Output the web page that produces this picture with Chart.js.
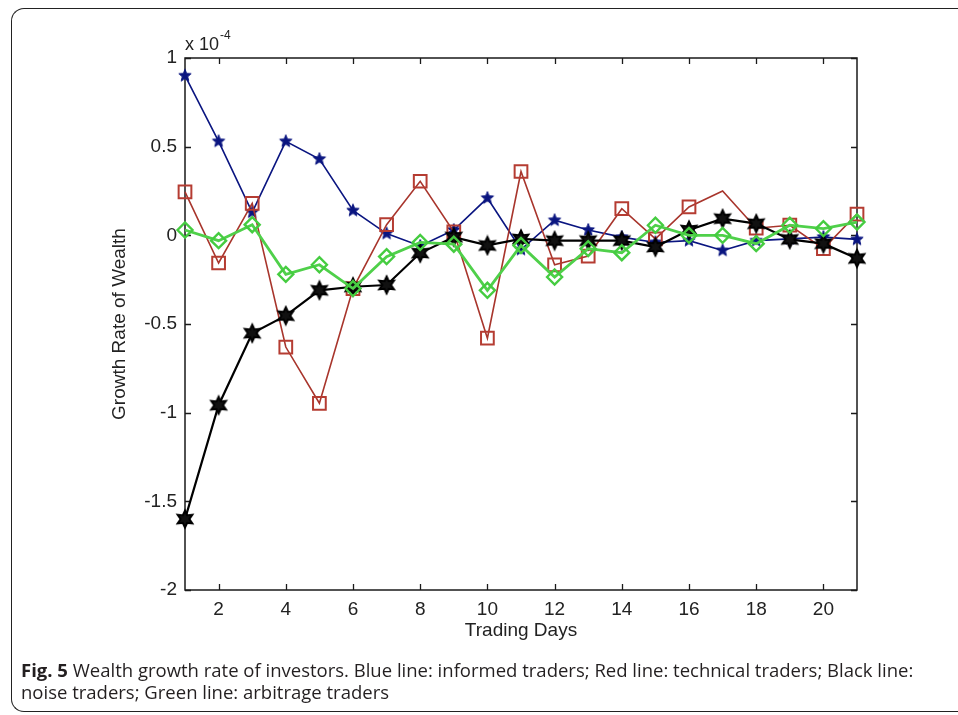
<!DOCTYPE html>
<html>
<head>
<meta charset="utf-8">
<script src="https://cdn.jsdelivr.net/npm/chart.js@4.4.1/dist/chart.umd.min.js"></script>
<style>
  html, body { margin: 0; padding: 0; background: #fff; width: 958px; height: 715px; overflow: hidden; }
  #frame { position: absolute; left: 11px; top: 8px; width: 947px; height: 704px; border: 1.5px solid #222; border-right: none; border-radius: 13px 0 0 13px; box-sizing: border-box; }
  #wrap { position: absolute; left: 0; top: 0; width: 958px; height: 715px; }
  #caption { position: absolute; left: 21px; top: 659px; font-family: "Open Sans", "Noto Sans", sans-serif; font-size: 18.5px; line-height: 22px; color: #231f20; white-space: nowrap; }
  #caption b { font-weight: 700; }
</style>
</head>
<body>
<div id="frame"></div>
<div id="wrap"><canvas id="c" width="958" height="715"></canvas></div>
<div id="caption"><b>Fig. 5</b> Wealth growth rate of investors. Blue line: informed traders; Red line: technical traders; Black line:<br>noise traders; Green line: arbitrage traders</div>
<script>
// ---- data (values in units of 1e-4) ----
const days = [1,2,3,4,5,6,7,8,9,10,11,12,13,14,15,16,17,18,19,20,21];
const informed  = [0.90, 0.53, 0.13, 0.53, 0.43, 0.14, 0.01, -0.06, 0.03, 0.21, -0.08, 0.085, 0.03, -0.01, -0.04, -0.03, -0.085, -0.03, -0.02, -0.01, -0.023];
const technical = [0.245, -0.156, 0.18, -0.63, -0.947, -0.30, 0.06, 0.305, 0.02, -0.58, 0.36, -0.166, -0.117, 0.15, -0.02, 0.16, 0.25, 0.04, 0.057, -0.075, 0.12];
const noise     = [-1.60, -0.958, -0.552, -0.453, -0.31, -0.29, -0.28, -0.10, -0.01, -0.057, -0.02, -0.03, -0.03, -0.03, -0.066, 0.03, 0.094, 0.066, -0.023, -0.047, -0.13];
const arbitrage = [0.03, -0.03, 0.06, -0.22, -0.166, -0.30, -0.12, -0.04, -0.05, -0.31, -0.057, -0.235, -0.075, -0.098, 0.057, 0.0, 0.0, -0.047, 0.057, 0.038, 0.075];
const xTickValues = [2,4,6,8,10,12,14,16,18,20];
const yTickValues = [1, 0.5, 0, -0.5, -1, -1.5, -2];
const xTitle = "Trading Days";
const yTitle = "Growth Rate of Wealth";
const multiplierBase = "x 10";
const multiplierExp = "-4";

// ---- marker images ----
function starImage(points, outerR, innerR, fill, stroke, lw, size) {
  const c = document.createElement('canvas');
  c.width = size; c.height = size;
  const g = c.getContext('2d');
  const cx = size / 2, cy = size / 2;
  g.beginPath();
  for (let i = 0; i < points * 2; i++) {
    const r = i % 2 === 0 ? outerR : innerR;
    const a = -Math.PI / 2 + i * Math.PI / points;
    const px = cx + r * Math.cos(a), py = cy + r * Math.sin(a);
    if (i === 0) g.moveTo(px, py); else g.lineTo(px, py);
  }
  g.closePath();
  if (fill) { g.fillStyle = fill; g.fill(); }
  if (stroke) { g.strokeStyle = stroke; g.lineWidth = lw; g.lineJoin = 'miter'; g.stroke(); }
  return c;
}
const pentagram = starImage(5, 6.5, 2.8, '#0a1580', '#0a1580', 1, 16);
const hexagram = starImage(6, 8.5, 4.4, '#111', '#000', 2, 22);

const frameAndTicks = {
  id: 'frameAndTicks',
  beforeDatasetsDraw(chart) {
    const {ctx, chartArea: a, scales} = chart;
    ctx.save();
    ctx.strokeStyle = '#1a1a1a';
    ctx.lineWidth = 1.5;
    ctx.strokeRect(a.left, a.top, a.right - a.left, a.bottom - a.top);
    ctx.lineWidth = 1.3;
    ctx.beginPath();
    const tl = 6;
    xTickValues.forEach(v => {
      const x = Math.round(scales.x.getPixelForValue(v)) + 0.5;
      ctx.moveTo(x, a.bottom); ctx.lineTo(x, a.bottom - tl);
      ctx.moveTo(x, a.top); ctx.lineTo(x, a.top + tl);
    });
    yTickValues.forEach(v => {
      const y = Math.round(scales.y.getPixelForValue(v)) + 0.5;
      ctx.moveTo(a.left, y); ctx.lineTo(a.left + tl, y);
      ctx.moveTo(a.right, y); ctx.lineTo(a.right - tl, y);
    });
    ctx.stroke();
    // multiplier label
    ctx.fillStyle = '#222';
    ctx.font = '18px "Liberation Sans", Arial, sans-serif';
    ctx.textBaseline = 'alphabetic';
    ctx.textAlign = 'left';
    ctx.fillText(multiplierBase, a.left, a.top - 8);
    const w = ctx.measureText(multiplierBase).width;
    ctx.font = '12px "Liberation Sans", Arial, sans-serif';
    ctx.fillText(multiplierExp, a.left + w + 1, a.top - 19);
    ctx.restore();
  }
};

const tickFont = { family: '"Liberation Sans", Arial, sans-serif', size: 19 };

new Chart(document.getElementById('c'), {
  type: 'line',
  data: {
    labels: days,
    datasets: [
      { label: 'Informed traders', data: days.map((d, i) => ({x: d, y: informed[i]})),
        borderColor: '#0a1580', borderWidth: 1.6, pointStyle: pentagram, pointRadius: 6, order: 4 },
      { label: 'Technical traders', data: days.map((d, i) => ({x: d, y: technical[i]})),
        borderColor: '#a8352c', borderWidth: 1.6, pointStyle: 'rect',
        pointRadius: ctx => ctx.dataIndex === 16 ? 0 : 9, pointBorderColor: '#b53c32', pointBorderWidth: 2,
        pointBackgroundColor: 'rgba(0,0,0,0)', order: 3 },
      { label: 'Noise traders', data: days.map((d, i) => ({x: d, y: noise[i]})),
        borderColor: '#000', borderWidth: 2.2, pointStyle: hexagram, pointRadius: 8, order: 2 },
      { label: 'Arbitrage traders', data: days.map((d, i) => ({x: d, y: arbitrage[i]})),
        borderColor: '#4fd04a', borderWidth: 2.8, pointStyle: 'rectRot', pointRadius: 7.5,
        pointBorderColor: '#45cc40', pointBorderWidth: 2.4, pointBackgroundColor: 'rgba(0,0,0,0)', order: 1 }
    ]
  },
  options: {
    responsive: false,
    animation: false,
    events: [],
    clip: false,
    layout: { padding: { left: 108, right: 101, top: 58, bottom: 73 } },
    plugins: { legend: { display: false }, tooltip: { enabled: false } },
    elements: { line: { tension: 0 } },
    scales: {
      x: {
        type: 'linear', min: 1, max: 21,
        afterBuildTicks: s => { s.ticks = xTickValues.map(v => ({value: v})); },
        afterFit: s => { s.height = 52; },
        grid: { display: false, drawTicks: false },
        border: { display: false },
        ticks: { font: tickFont, color: '#222', padding: 8, maxRotation: 0, autoSkip: false, callback: v => String(v) },
        title: { display: true, text: xTitle, font: { family: '"Liberation Sans", Arial, sans-serif', size: 19 }, color: '#222', padding: 0 }
      },
      y: {
        type: 'linear', min: -2, max: 1,
        afterBuildTicks: s => { s.ticks = yTickValues.map(v => ({value: v})); },
        afterFit: s => { s.width = 77; },
        grid: { display: false, drawTicks: false },
        border: { display: false },
        ticks: { font: tickFont, color: '#222', padding: 8, callback: v => String(v) },
        title: { display: true, text: yTitle, font: { family: '"Liberation Sans", Arial, sans-serif', size: 19 }, color: '#222', padding: 0 }
      }
    }
  },
  plugins: [frameAndTicks]
});
</script>
</body>
</html>
